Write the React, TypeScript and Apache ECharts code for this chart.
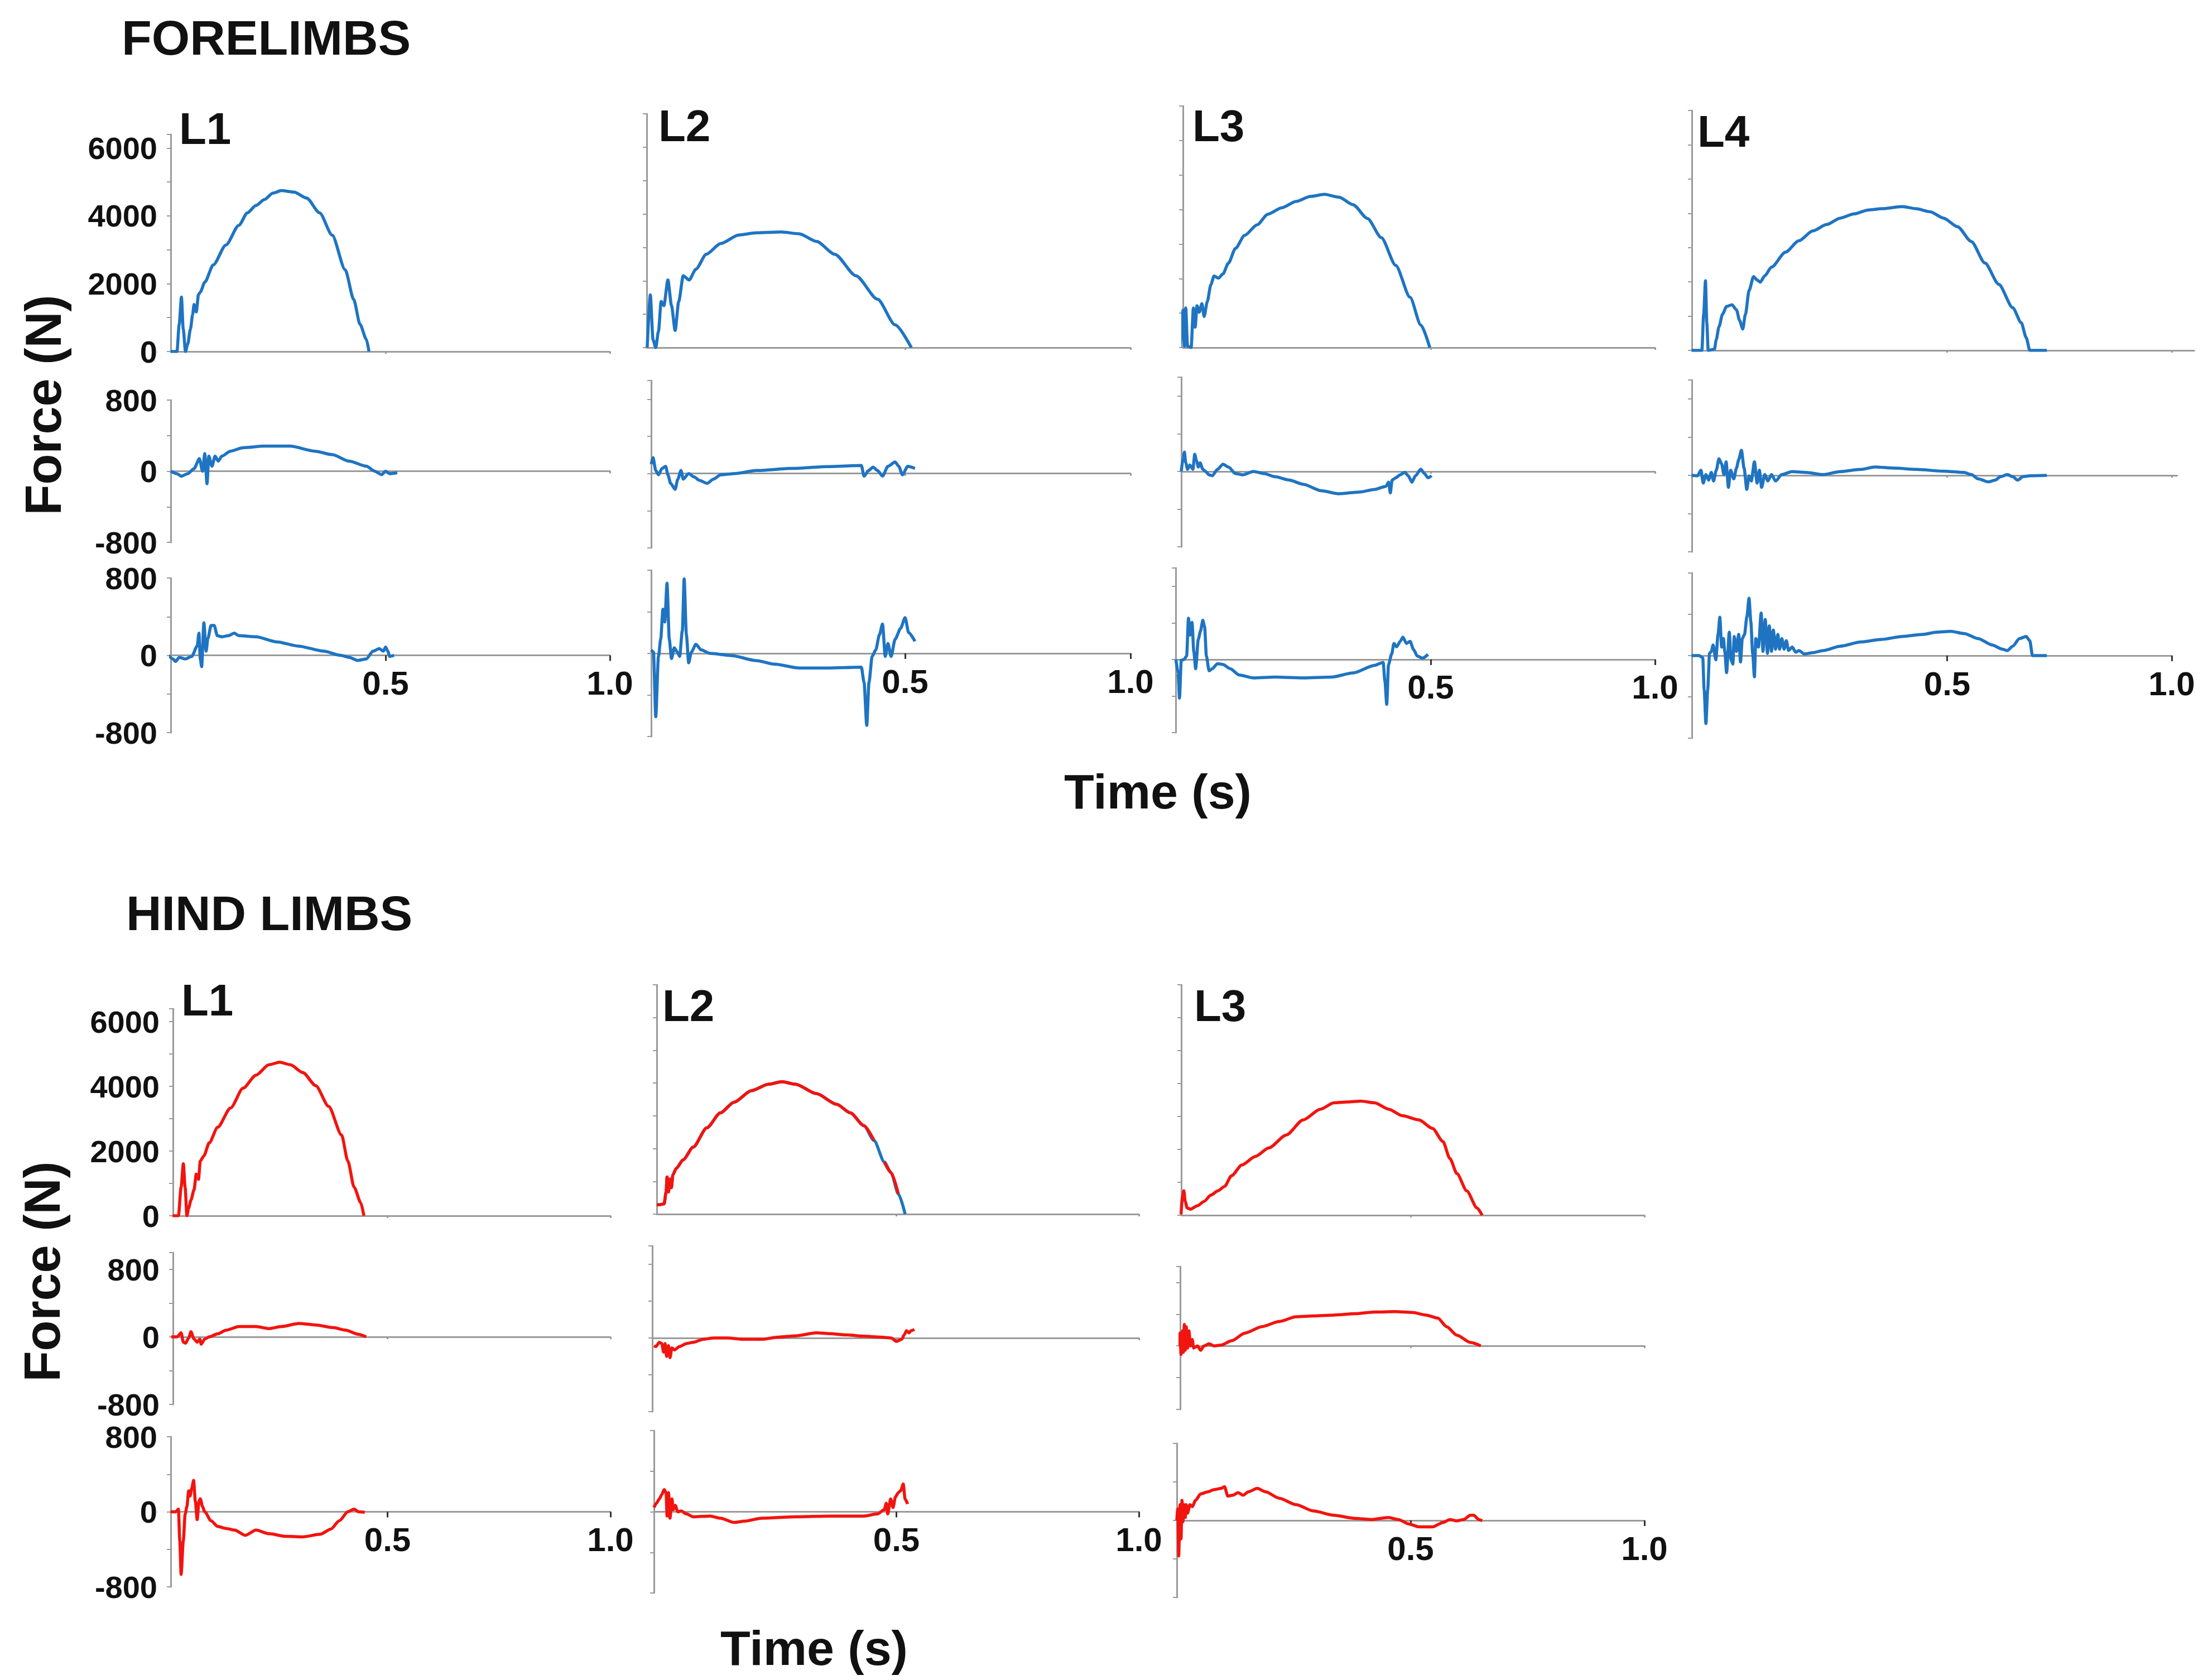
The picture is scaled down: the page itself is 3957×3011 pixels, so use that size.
import { useEffect, useRef } from 'react';
import * as echarts from 'echarts';

// ---- data: [time (s), force (N)] ----
// Forelimbs, L1
const fl1Vertical = [[0.021,0],[0.035,0],[0.040,803],[0.045,1606],[0.049,657],[0.054,0],[0.059,219],[0.065,657],[0.070,1095],[0.073,1387],[0.078,1168],[0.083,1679],[0.087,1752],[0.097,2044],[0.116,2555],[0.144,3139],[0.173,3723],[0.192,4088],[0.211,4307],[0.230,4482],[0.249,4672],[0.268,4745],[0.296,4701],[0.324,4526],[0.353,4088],[0.381,3431],[0.410,2409],[0.429,1533],[0.443,803],[0.457,365],[0.463,0]];
const fl1Cranial = [[0.021,0],[0.035,-28],[0.045,-56],[0.059,-28],[0.073,28],[0.085,141],[0.092,0],[0.097,197],[0.102,-141],[0.106,169],[0.113,56],[0.120,169],[0.127,113],[0.135,169],[0.154,225],[0.182,264],[0.230,282],[0.287,282],[0.343,225],[0.381,186],[0.419,113],[0.457,56],[0.476,0],[0.491,-39],[0.500,0],[0.509,-28],[0.526,-17]];
const fl1Lateral = [[0.016,0],[0.026,-37],[0.032,-64],[0.040,-21],[0.054,-37],[0.068,-11],[0.080,96],[0.084,229],[0.087,-37],[0.090,-117],[0.095,336],[0.100,43],[0.104,176],[0.111,309],[0.118,309],[0.125,203],[0.135,192],[0.149,203],[0.163,229],[0.173,203],[0.211,192],[0.258,139],[0.305,96],[0.362,43],[0.400,0],[0.419,-21],[0.438,-53],[0.457,-37],[0.472,43],[0.486,69],[0.495,43],[0.500,85],[0.505,43],[0.509,-11],[0.519,0]];

// Forelimbs, L2
const fl2Vertical = [[-0.072,0],[-0.065,1577],[-0.059,230],[-0.053,0],[-0.047,487],[-0.041,1384],[-0.035,1256],[-0.026,2025],[-0.018,1256],[-0.010,513],[-0.002,1384],[0.008,2153],[0.021,2025],[0.036,2346],[0.059,2795],[0.091,3115],[0.131,3372],[0.170,3436],[0.225,3461],[0.265,3410],[0.304,3179],[0.344,2795],[0.391,2153],[0.439,1449],[0.478,679],[0.514,0]];
const fl2Cranial = [[-0.063,101],[-0.059,170],[-0.053,32],[-0.047,-14],[-0.039,55],[-0.031,78],[-0.026,-14],[-0.020,-106],[-0.010,-170],[-0.004,-60],[0.003,32],[0.008,-60],[0.020,0],[0.032,-37],[0.044,-74],[0.061,-106],[0.075,-60],[0.091,-14],[0.123,0],[0.170,32],[0.249,55],[0.328,74],[0.403,87],[0.409,-28],[0.419,32],[0.429,69],[0.439,32],[0.450,-28],[0.462,78],[0.478,124],[0.486,78],[0.494,-14],[0.506,78],[0.522,55]];
const fl2Lateral = [[-0.063,33],[-0.058,12],[-0.053,-610],[-0.047,-29],[-0.042,137],[-0.037,426],[-0.033,302],[-0.028,675],[-0.023,137],[-0.018,-50],[-0.012,54],[-0.005,12],[0.000,-29],[0.006,220],[0.010,717],[0.015,178],[0.020,-91],[0.026,12],[0.036,87],[0.048,33],[0.067,0],[0.115,-21],[0.170,-70],[0.210,-104],[0.265,-141],[0.328,-141],[0.403,-133],[0.409,-278],[0.415,-693],[0.420,-278],[0.427,-29],[0.435,33],[0.443,178],[0.450,282],[0.456,-29],[0.462,95],[0.469,-29],[0.478,137],[0.490,240],[0.500,344],[0.508,199],[0.522,116]];

// Forelimbs, L3
const fl3Vertical = [[-0.058,0],[-0.052,1087],[-0.049,37],[-0.046,1149],[-0.042,37],[-0.034,0],[-0.029,1149],[-0.025,593],[-0.021,1211],[-0.016,1025],[-0.010,1272],[-0.005,902],[0.002,1334],[0.010,1828],[0.017,2075],[0.027,2013],[0.037,2137],[0.049,2446],[0.065,2878],[0.085,3248],[0.113,3557],[0.137,3865],[0.168,4051],[0.200,4236],[0.232,4380],[0.263,4440],[0.295,4360],[0.327,4140],[0.359,3742],[0.390,3186],[0.422,2384],[0.454,1458],[0.478,655],[0.498,0]];
const fl3Cranial = [[-0.056,0],[-0.052,137],[-0.049,205],[-0.046,91],[-0.042,23],[-0.037,68],[-0.030,23],[-0.026,182],[-0.022,114],[-0.018,46],[-0.014,91],[-0.008,23],[-0.002,0],[0.006,-36],[0.013,-46],[0.025,23],[0.037,77],[0.049,46],[0.065,-23],[0.081,-36],[0.105,0],[0.129,-23],[0.152,-55],[0.184,-91],[0.216,-137],[0.256,-205],[0.295,-237],[0.343,-218],[0.375,-191],[0.400,-159],[0.406,-114],[0.410,-228],[0.414,-91],[0.422,-68],[0.432,-36],[0.442,-9],[0.450,-46],[0.458,-114],[0.466,-46],[0.478,23],[0.486,-23],[0.494,-68],[0.502,-46]];
const fl3Lateral = [[-0.068,0],[-0.063,-147],[-0.060,-423],[-0.056,-9],[-0.050,0],[-0.044,37],[-0.040,451],[-0.036,267],[-0.032,405],[-0.028,83],[-0.024,-101],[-0.018,221],[-0.013,313],[-0.008,428],[-0.004,359],[0.000,37],[0.006,-124],[0.013,-101],[0.025,-46],[0.037,-55],[0.053,-101],[0.073,-170],[0.105,-202],[0.152,-193],[0.216,-202],[0.279,-193],[0.327,-147],[0.375,-64],[0.394,-32],[0.398,-239],[0.402,-492],[0.406,-55],[0.413,60],[0.418,175],[0.424,138],[0.432,198],[0.438,244],[0.446,175],[0.454,198],[0.462,106],[0.470,37],[0.482,14],[0.494,55]];

// Forelimbs, L4
const fl4Vertical = [[-0.069,0],[-0.046,0],[-0.042,1058],[-0.038,2029],[-0.035,809],[-0.032,0],[-0.018,37],[-0.014,311],[-0.008,685],[0.000,1058],[0.009,1282],[0.021,1332],[0.031,1183],[0.038,872],[0.045,623],[0.051,1058],[0.059,1743],[0.069,2154],[0.077,2054],[0.084,1992],[0.094,2179],[0.109,2428],[0.140,2864],[0.170,3200],[0.201,3486],[0.232,3673],[0.262,3860],[0.293,3984],[0.324,4096],[0.354,4133],[0.400,4196],[0.431,4133],[0.462,4046],[0.492,3860],[0.523,3611],[0.554,3175],[0.584,2552],[0.615,1930],[0.646,1245],[0.665,809],[0.676,374],[0.684,0],[0.722,0]];
const fl4Cranial = [[-0.069,0],[-0.056,-4],[-0.048,54],[-0.043,-80],[-0.037,9],[-0.031,-49],[-0.025,31],[-0.020,-58],[-0.014,54],[-0.008,174],[-0.002,121],[0.003,9],[0.008,143],[0.013,-125],[0.018,54],[0.025,-36],[0.031,76],[0.036,165],[0.042,264],[0.048,76],[0.054,-147],[0.059,-4],[0.064,-58],[0.071,143],[0.077,-80],[0.082,54],[0.087,-125],[0.094,9],[0.101,-58],[0.109,9],[0.118,-58],[0.132,9],[0.155,40],[0.186,31],[0.224,9],[0.262,40],[0.308,63],[0.339,89],[0.385,76],[0.431,63],[0.492,45],[0.538,31],[0.554,9],[0.569,-36],[0.592,-67],[0.607,-49],[0.619,-13],[0.634,9],[0.646,-13],[0.657,-49],[0.669,-13],[0.684,-4],[0.722,0]];
const fl4Lateral = [[-0.069,0],[-0.052,0],[-0.044,-21],[-0.041,-330],[-0.037,-659],[-0.033,-330],[-0.029,21],[-0.025,41],[-0.021,103],[-0.015,-41],[-0.010,206],[-0.006,371],[-0.002,82],[0.002,165],[0.005,41],[0.009,-165],[0.015,227],[0.019,-41],[0.023,-82],[0.026,185],[0.031,41],[0.036,206],[0.040,-62],[0.044,165],[0.049,206],[0.054,371],[0.059,556],[0.063,330],[0.067,21],[0.071,-206],[0.074,165],[0.080,82],[0.086,412],[0.090,41],[0.095,350],[0.100,21],[0.104,288],[0.109,41],[0.113,247],[0.118,62],[0.123,206],[0.127,62],[0.132,165],[0.137,62],[0.142,144],[0.147,49],[0.155,82],[0.163,33],[0.170,49],[0.182,16],[0.201,29],[0.224,49],[0.262,91],[0.308,132],[0.354,157],[0.400,185],[0.446,206],[0.477,227],[0.508,235],[0.538,214],[0.569,165],[0.600,103],[0.623,62],[0.634,49],[0.646,91],[0.661,165],[0.676,185],[0.684,144],[0.690,0],[0.722,0]];

// Hind limbs, L1
const hl1Vertical = [[0.018,0],[0.031,0],[0.037,886],[0.042,1610],[0.046,886],[0.050,0],[0.054,242],[0.059,483],[0.066,805],[0.071,1288],[0.076,1127],[0.080,1691],[0.088,1852],[0.100,2254],[0.119,2737],[0.148,3333],[0.176,3945],[0.205,4347],[0.234,4669],[0.258,4750],[0.282,4669],[0.310,4428],[0.339,4025],[0.368,3381],[0.397,2496],[0.411,1691],[0.425,886],[0.440,403],[0.447,0]];
const hl1Cranial = [[0.013,0],[0.028,0],[0.037,49],[0.042,-62],[0.047,-74],[0.054,-12],[0.059,62],[0.066,-25],[0.073,-62],[0.079,-25],[0.082,-86],[0.090,-25],[0.100,0],[0.119,37],[0.138,80],[0.167,123],[0.205,123],[0.234,98],[0.262,123],[0.301,160],[0.339,142],[0.377,111],[0.406,80],[0.435,31],[0.452,0]];
const hl1Lateral = [[0.013,0],[0.025,0],[0.031,28],[0.034,-306],[0.037,-668],[0.042,-306],[0.046,-28],[0.050,56],[0.054,223],[0.057,167],[0.061,251],[0.065,334],[0.069,111],[0.073,-84],[0.077,111],[0.080,139],[0.085,56],[0.090,0],[0.104,-95],[0.119,-156],[0.138,-178],[0.157,-195],[0.181,-251],[0.205,-195],[0.234,-234],[0.272,-262],[0.310,-267],[0.349,-240],[0.373,-184],[0.392,-95],[0.411,0],[0.425,28],[0.435,0],[0.449,-6]];

// Hind limbs, L2
const hl2Vertical = [[0.006,287],[0.011,287],[0.021,313],[0.025,678],[0.027,1134],[0.030,678],[0.033,1069],[0.036,808],[0.039,1199],[0.046,1395],[0.060,1656],[0.081,2047],[0.109,2634],[0.137,3090],[0.165,3416],[0.201,3768],[0.236,3964],[0.264,4042],[0.292,3964],[0.335,3677],[0.377,3351],[0.405,3090],[0.433,2699],[0.454,2243],[0.475,1591],[0.489,1265],[0.504,613],[0.518,0]];
const hl2Cranial = [[0.000,-84],[0.004,-93],[0.011,-47],[0.016,-60],[0.020,-153],[0.023,-60],[0.026,-200],[0.030,-84],[0.033,-214],[0.037,-107],[0.042,-130],[0.053,-93],[0.067,-60],[0.081,-47],[0.102,-14],[0.123,0],[0.151,0],[0.187,-14],[0.222,-14],[0.257,9],[0.292,23],[0.335,56],[0.363,47],[0.398,33],[0.433,19],[0.468,9],[0.489,0],[0.500,-37],[0.511,-14],[0.516,33],[0.521,79],[0.526,56],[0.530,79],[0.537,93]];
const hl2Lateral = [[0.000,42],[0.005,84],[0.011,126],[0.016,168],[0.021,218],[0.025,189],[0.027,-42],[0.030,189],[0.033,-63],[0.037,126],[0.040,21],[0.044,63],[0.049,0],[0.056,8],[0.067,-21],[0.081,-50],[0.116,-42],[0.137,-63],[0.165,-105],[0.187,-92],[0.222,-63],[0.292,-50],[0.363,-42],[0.433,-42],[0.461,-21],[0.475,21],[0.479,84],[0.482,-21],[0.488,126],[0.493,42],[0.498,147],[0.504,189],[0.509,210],[0.514,273],[0.518,126],[0.523,76]];
// stretches of the L2 vertical trace where the underlying blue shows through
const hl2BlueGaps = [[0.454, 0.475], [0.504, 0.518]];

// Hind limbs, L3
const hl3Vertical = [[0.009,26],[0.012,548],[0.015,743],[0.018,417],[0.022,222],[0.029,183],[0.044,287],[0.058,417],[0.073,613],[0.088,743],[0.102,874],[0.117,1199],[0.139,1526],[0.168,1786],[0.197,2047],[0.234,2438],[0.270,2895],[0.307,3221],[0.336,3416],[0.365,3442],[0.394,3468],[0.423,3416],[0.453,3221],[0.482,3025],[0.518,2895],[0.547,2634],[0.569,2243],[0.584,1721],[0.599,1265],[0.620,743],[0.642,222],[0.653,0]];
const hl3Cranial = [[0.006,0],[0.007,162],[0.009,-108],[0.012,189],[0.014,-81],[0.016,270],[0.018,-54],[0.020,243],[0.023,-27],[0.026,189],[0.029,0],[0.033,81],[0.036,-27],[0.044,0],[0.051,-54],[0.058,0],[0.069,27],[0.080,0],[0.095,11],[0.117,65],[0.146,162],[0.182,243],[0.219,308],[0.255,367],[0.292,378],[0.336,389],[0.380,405],[0.423,427],[0.467,432],[0.504,421],[0.533,389],[0.558,351],[0.577,243],[0.599,135],[0.628,43],[0.650,0]];
const hl3Lateral = [[0.000,0],[0.002,120],[0.004,-368],[0.007,164],[0.009,-191],[0.011,209],[0.013,-13],[0.015,164],[0.018,31],[0.020,164],[0.023,75],[0.028,164],[0.033,142],[0.040,209],[0.051,275],[0.066,297],[0.080,320],[0.095,333],[0.102,351],[0.109,253],[0.120,262],[0.131,289],[0.142,262],[0.153,297],[0.172,333],[0.190,297],[0.219,231],[0.255,164],[0.292,98],[0.336,53],[0.380,22],[0.416,9],[0.453,31],[0.474,9],[0.496,-36],[0.518,-67],[0.547,-67],[0.569,-22],[0.584,9],[0.599,-4],[0.613,9],[0.628,53],[0.635,53],[0.646,9],[0.653,-4]];

const verticalTicks = [0, 2000, 4000, 6000];
const shearTicks = [-800, 0, 800];
const timeTicks = [0.5, 1.0];

const BLUE = '#1f74c2';
const RED = '#f2140f';
const AXIS = '#9a9a9a';
const FONT = '"Liberation Sans", Arial, Helvetica, sans-serif';

type Sub = { left: number; top: number; bottom: number; yMin: number; yMax: number; step: number; data: number[][]; xMax?: number };
type Panel = { x0: number; pps: number; color: string; labels: boolean; subs: Sub[] };

// layout in page pixels: x0 = pixel of t = 0, pps = pixels per second
const panels: Panel[] = [
    { x0: 289, pps: 804, color: BLUE, labels: true, subs: [
        { left: 306, top: 241, bottom: 630, yMin: 0, yMax: 6400, step: 1000, data: fl1Vertical },
        { left: 306, top: 717, bottom: 972, yMin: -800, yMax: 800, step: 400, data: fl1Cranial },
        { left: 306, top: 1036, bottom: 1313, yMin: -800, yMax: 800, step: 400, data: fl1Lateral }] },
    { x0: 1218, pps: 808, color: BLUE, labels: false, subs: [
        { left: 1159, top: 204, bottom: 623, yMin: 0, yMax: 7000, step: 1000, data: fl2Vertical },
        { left: 1167, top: 682, bottom: 982, yMin: -800, yMax: 1000, step: 400, data: fl2Cranial },
        { left: 1167, top: 1022, bottom: 1320, yMin: -800, yMax: 800, step: 400, data: fl2Lateral }] },
    { x0: 2162, pps: 804, color: BLUE, labels: false, subs: [
        { left: 2120, top: 190, bottom: 623, yMin: 0, yMax: 7000, step: 1000, data: fl3Vertical },
        { left: 2117, top: 676, bottom: 980, yMin: -800, yMax: 1000, step: 400, data: fl3Cranial },
        { left: 2107, top: 1018, bottom: 1313, yMin: -800, yMax: 1000, step: 400, data: fl3Lateral }] },
    { x0: 3087, pps: 805, color: BLUE, labels: false, subs: [
        { left: 3032, top: 198, bottom: 628, yMin: 0, yMax: 7000, step: 1000, data: fl4Vertical, xMax: 1.05 },
        { left: 3032, top: 681, bottom: 989, yMin: -800, yMax: 1000, step: 400, data: fl4Cranial, xMax: 1.012 },
        { left: 3032, top: 1027, bottom: 1323, yMin: -800, yMax: 800, step: 400, data: fl4Lateral }] },
    { x0: 295, pps: 799, color: RED, labels: true, subs: [
        { left: 310, top: 1808, bottom: 2179, yMin: 0, yMax: 6400, step: 1000, data: hl1Vertical },
        { left: 310, top: 2245, bottom: 2517, yMin: -800, yMax: 1000, step: 400, data: hl1Cranial },
        { left: 306, top: 2575, bottom: 2844, yMin: -800, yMax: 800, step: 400, data: hl1Lateral }] },
    { x0: 1172, pps: 869, color: RED, labels: false, subs: [
        { left: 1177, top: 1765, bottom: 2176, yMin: 0, yMax: 7000, step: 1000, data: hl2Vertical },
        { left: 1169, top: 2233, bottom: 2530, yMin: -800, yMax: 1000, step: 400, data: hl2Cranial },
        { left: 1172, top: 2564, bottom: 2855, yMin: -800, yMax: 800, step: 400, data: hl2Lateral }] },
    { x0: 2109, pps: 838, color: RED, labels: false, subs: [
        { left: 2117, top: 1765, bottom: 2178, yMin: 0, yMax: 7000, step: 1000, data: hl3Vertical },
        { left: 2115, top: 2270, bottom: 2526, yMin: -800, yMax: 1000, step: 400, data: hl3Cranial },
        { left: 2109, top: 2587, bottom: 2863, yMin: -800, yMax: 800, step: 400, data: hl3Lateral }] },
];

const texts = [
    { text: 'FORELIMBS', x: 218, y: 67, size: 88 },
    { text: 'HIND LIMBS', x: 226, y: 1636, size: 88 },
    { text: 'L1', x: 321, y: 230, size: 80 },
    { text: 'L2', x: 1180, y: 225, size: 80 },
    { text: 'L3', x: 2137, y: 225, size: 80 },
    { text: 'L4', x: 3042, y: 235, size: 80 },
    { text: 'L1', x: 325, y: 1792, size: 80 },
    { text: 'L2', x: 1187, y: 1802, size: 80 },
    { text: 'L3', x: 2140, y: 1802, size: 80 },
];

export default function App() {
    const chartRef = useRef<HTMLDivElement>(null);

    useEffect(() => {
        if (!chartRef.current) return;
        const chart = echarts.init(chartRef.current, null, { renderer: 'svg' });

        const grid: any[] = [];
        const xAxis: any[] = [];
        const yAxis: any[] = [];
        const series: any[] = [];

        panels.forEach((p) => {
            p.subs.forEach((s, k) => {
                const idx = grid.length;
                const xMin = (s.left - p.x0) / p.pps;
                const xMax = s.xMax ?? 1.0;
                const isBottom = k === 2;
                const height = s.bottom - s.top;
                // lift the time axis (line, ticks, labels) up to the zero force level
                const zeroLift = ((0 - s.yMin) / (s.yMax - s.yMin)) * height;
                grid.push({
                    left: s.left, top: s.top,
                    width: (xMax - xMin) * p.pps, height,
                    containLabel: false, outerBoundsMode: 'none'
                });
                xAxis.push({
                    gridIndex: idx, type: 'value', min: xMin, max: xMax,
                    position: 'bottom', offset: -zeroLift,
                    axisLine: { show: true, onZero: false, lineStyle: { color: AXIS, width: 3 } },
                    axisTick: { show: true, customValues: timeTicks, length: isBottom ? 10 : 4, lineStyle: { color: isBottom ? '#333' : AXIS, width: 3 } },
                    axisLabel: {
                        show: isBottom, customValues: timeTicks, margin: 20,
                        formatter: (v: number) => v.toFixed(1),
                        fontSize: 60, fontWeight: 'bold', color: '#111', fontFamily: FONT
                    },
                    splitLine: { show: false }
                });
                const shown = k === 0 ? verticalTicks : shearTicks;
                yAxis.push({
                    gridIndex: idx, type: 'value', min: s.yMin, max: s.yMax, interval: s.step,
                    axisLine: { show: true, onZero: false, lineStyle: { color: AXIS, width: 3 } },
                    axisTick: { show: true, length: 7, lineStyle: { color: AXIS, width: 2 } },
                    axisLabel: {
                        show: p.labels, margin: 24, showMaxLabel: true, showMinLabel: true,
                        formatter: (v: number) => (shown.includes(v) ? String(v) : ''),
                        fontSize: 56, fontWeight: 'bold', color: '#111', fontFamily: FONT
                    },
                    splitLine: { show: false }
                });

                const line = (data: any[], color: string, z: number) => ({
                    type: 'line', xAxisIndex: idx, yAxisIndex: idx, data,
                    showSymbol: false, symbol: 'none', silent: true, z,
                    smooth: 0.25, smoothMonotone: 'x',
                    lineStyle: { color, width: 5.5 }, connectNulls: false
                });

                if (s.data === hl2Vertical) {
                    // blue trace underneath, red on top with gaps
                    series.push(line(s.data, BLUE, 2));
                    const red: any[] = [];
                    s.data.forEach((pt, i) => {
                        const prev = s.data[i - 1];
                        if (prev && hl2BlueGaps.some(([a, b]) => prev[0] === a && pt[0] === b)) {
                            red.push([(prev[0] + pt[0]) / 2, null]);
                        }
                        red.push(pt[0] === hl2BlueGaps[1][1] ? [pt[0], null] : pt);
                    });
                    series.push(line(red, p.color, 3));
                } else {
                    series.push(line(s.data, p.color, 3));
                }
            });
        });

        const graphic: any[] = texts.map((t) => ({
            type: 'text', x: t.x, y: t.y,
            style: { text: t.text, fontSize: t.size, fontWeight: 'bold', fontFamily: FONT, fill: '#111', align: 'left', verticalAlign: 'middle' }
        }));
        [[78, 726], [76, 2279]].forEach(([x, y]) => graphic.push({
            type: 'text', x, y, rotation: Math.PI / 2,
            style: { text: 'Force (N)', fontSize: 90, fontWeight: 'bold', fontFamily: FONT, fill: '#111', align: 'center', verticalAlign: 'middle' }
        }));
        [[2075, 1418], [1459, 2953]].forEach(([x, y]) => graphic.push({
            type: 'text', x, y,
            style: { text: 'Time (s)', fontSize: 88, fontWeight: 'bold', fontFamily: FONT, fill: '#111', align: 'center', verticalAlign: 'middle' }
        }));

        chart.setOption({
            animation: false,
            backgroundColor: '#ffffff',
            grid, xAxis, yAxis, series, graphic
        });

        return () => chart.dispose();
    }, []);

    return <div ref={chartRef} style={{ position: 'absolute', left: 0, top: 0, width: 3957, height: 3011 }} />;
}
